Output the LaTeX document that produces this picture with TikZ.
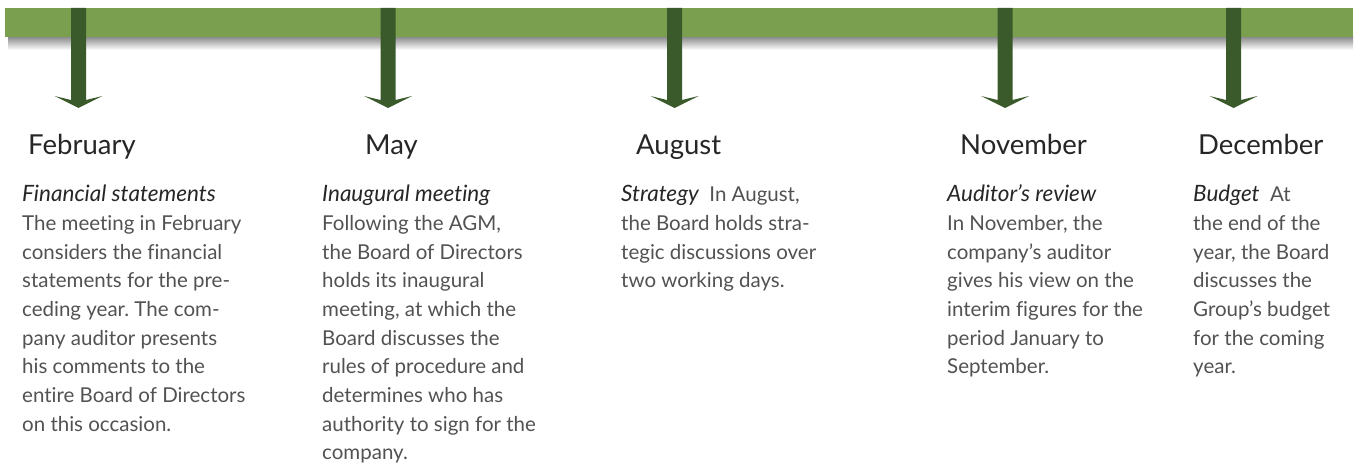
\documentclass[tikz,border=0pt]{standalone}
\usepackage{fontspec}
\setmainfont{Lato}[Ligatures={NoCommon}]
\usetikzlibrary{calc}
\frenchspacing
\definecolor{bargreen}{RGB}{122,160,79}
\definecolor{arrowgreen}{RGB}{59,90,43}
\definecolor{bodygrey}{RGB}{82,82,82}
\definecolor{titlegrey}{RGB}{38,38,38}
\tikzset{
  month/.style={anchor=base west, inner sep=0pt, text=titlegrey, font=\fontsize{27.5}{30}\selectfont},
  bodytext/.style={anchor=base west, inner sep=0pt, text=bodygrey, font=\fontsize{20.5}{28.7}\selectfont},
  downarrow/.style={fill=arrowgreen, draw=none}
}
\newcommand{\hd}[1]{\textcolor{titlegrey}{\fontsize{22.5}{28.7}\selectfont\itshape #1}}
\newcommand{\col}[2]{\parbox[t]{#1}{\raggedright\frenchspacing #2}}
\begin{document}
\begin{tikzpicture}[x=1pt,y=-1pt]
\useasboundingbox (0,0) rectangle (1358,465);
% shadow and bar
\shade[top color=black!45, bottom color=white] (8,37) rectangle (1353,50);
\fill[bargreen] (5,8) rectangle (1353,37);
% arrow coordinates
\foreach \n/\c in {a1/78.5, a2/388, a3/674.5, a4/1005, a5/1233.5}{
  \coordinate (\n) at (\c,8);
}
\foreach \n in {a1,a2,a3,a4,a5}{
  \fill[downarrow] ($(\n)+(-7.5,0)$) -- ($(\n)+(-7.5,92)$) -- ($(\n)+(-24,88)$)
     -- ($(\n)+(0,100)$) -- ($(\n)+(24,88)$) -- ($(\n)+(7.5,92)$) -- ($(\n)+(7.5,0)$) -- cycle;
}
% titles
\node[month] (feb) at (28,155) {February};
\node[month] (may) at (365,155) {May};
\node[month] (aug) at (636,155) {August};
\node[month] (nov) at (960,155) {November};
\node[month] (dec) at (1198,155) {December};
% texts
\node[bodytext] (febt) at (22,201.7) {\col{280pt}{\hd{Financial statements}\\
The meeting in February\\
considers the financial\\
statements for the pre-\\
ceding year. The com-\\
pany auditor presents\\
his comments to the\\
entire Board of Directors\\
on this occasion.}};
\node[bodytext] (mayt) at (322,201.7) {\col{280pt}{\hd{Inaugural meeting}\\
Following the AGM,\\
the Board of Directors\\
holds its inaugural\\
meeting, at which the\\
Board discusses the\\
rules of procedure and\\
determines who has\\
authority to sign for the\\
company.}};
\node[bodytext] (augt) at (621,201.7) {\col{280pt}{\hd{Strategy}\ \ In August,\\
the Board holds stra-\\
tegic discussions over\\
two working days.}};
\node[bodytext] (novt) at (947,201.7) {\col{280pt}{\hd{Auditor’s review}\\
In November, the\\
company’s auditor\\
gives his view on the\\
interim figures for the\\
period January to\\
September.}};
\node[bodytext] (dect) at (1193,201.7) {\col{160pt}{\hd{Budget}\ \ At\\
the end of the\\
year, the Board\\
discusses the\\
Group’s budget\\
for the coming\\
year.}};
\end{tikzpicture}
\end{document}
